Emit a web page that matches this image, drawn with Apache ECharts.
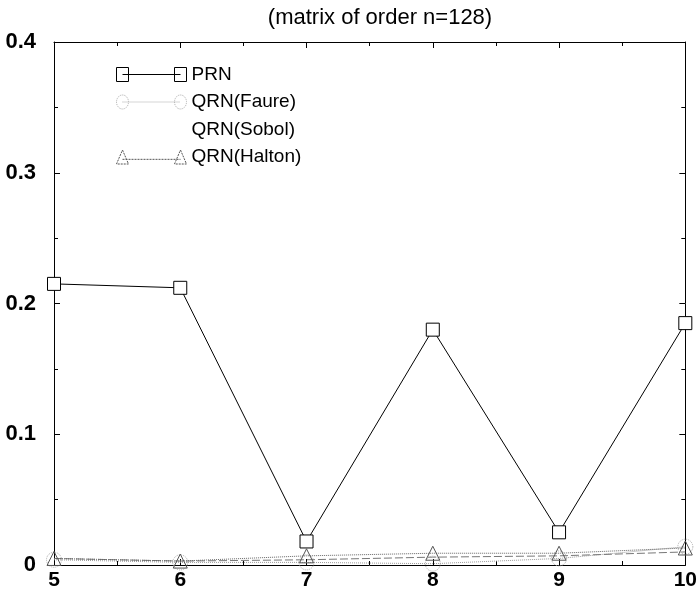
<!DOCTYPE html>
<html>
<head>
<meta charset="utf-8">
<script src="https://cdn.jsdelivr.net/npm/echarts@6/dist/echarts.min.js"></script>
<style>
  html, body { margin: 0; padding: 0; background: #fff; }
  #chart { width: 700px; height: 594px; }
</style>
</head>
<body>
<div id="chart"></div>
<script>
// Dimension (x) and error values for each random number generator
const dims = [5, 6, 7, 8, 9, 10];
const prn = [0.215, 0.212, 0.018, 0.180, 0.025, 0.185];
const faure = [0.004, 0.002, 0.002, 0.001, 0.005, 0.014];
const sobol = [0.005, 0.003, 0.004, 0.006, 0.007, 0.010];
const halton = [0.005, 0.003, 0.007, 0.009, 0.009, 0.013];
const yTicks = [0, 0.1, 0.2, 0.3, 0.4];

const FONT = '"Liberation Sans", Arial, Helvetica, sans-serif';
const pairs = (ys) => dims.map((d, i) => [d, ys[i]]);

// Legend keys: marker - line - marker
const KEY_SQUARE = 'path://M0,1 L12,1 L12,13 L0,13 Z M6,7 L64,7 M58,1 L70,1 L70,13 L58,13 Z';
const KEY_CIRCLE = 'path://M0,7 A6,6 0 1,0 12,7 A6,6 0 1,0 0,7 Z M6,7 L64,7 M58,7 A6,6 0 1,0 70,7 A6,6 0 1,0 58,7 Z';
const KEY_TRIANGLE = 'path://M6,1 L12,13 L0,13 Z M6,9 L64,9 M64,1 L70,13 L58,13 Z';

const chart = echarts.init(document.getElementById('chart'));
const tickBase = {
  show: true, inside: true, length: 6,
  lineStyle: { color: '#000', width: 1 }
};
const minorBase = {
  show: true, splitNumber: 2, length: 4,
  lineStyle: { color: '#000', width: 1 }
};
const frameLine = { show: true, onZero: false, lineStyle: { color: '#000', width: 1 } };

chart.setOption({
  animation: false,
  backgroundColor: '#fff',
  title: {
    text: '(matrix of order n=128)',
    left: 375, top: 2, textAlign: 'center',
    textStyle: { fontFamily: FONT, fontSize: 22, fontWeight: 'normal', color: '#000' }
  },
  grid: { left: 54, right: 12, top: 42, bottom: 29 },
  legend: {
    orient: 'vertical', left: 111, top: 60,
    itemWidth: 70, itemHeight: 14, itemGap: 8.5,
    symbolKeepAspect: false,
    textStyle: { fontFamily: FONT, fontSize: 19, color: '#000', padding: [0, 0, 0, 0] },
    data: [
      { name: 'PRN', icon: KEY_SQUARE,
        itemStyle: { color: 'rgba(0,0,0,0)', borderColor: '#000', borderWidth: 1 } },
      { name: 'QRN(Faure)', icon: KEY_CIRCLE,
        itemStyle: { color: 'rgba(0,0,0,0)', borderColor: '#aaa', borderWidth: 1, borderType: 'dotted' } },
      { name: 'QRN(Sobol)', icon: 'none',
        itemStyle: { opacity: 0 }, lineStyle: { opacity: 0 } },
      { name: 'QRN(Halton)', icon: KEY_TRIANGLE,
        itemStyle: { color: 'rgba(0,0,0,0)', borderColor: '#555', borderWidth: 1, borderType: [2, 1] } }
    ]
  },
  xAxis: [{
    type: 'value', min: 5, max: 10, interval: 1,
    axisLine: frameLine,
    axisTick: tickBase,
    minorTick: minorBase,
    splitLine: { show: false },
    axisLabel: { fontFamily: FONT, fontSize: 21, fontWeight: 'bold', color: '#000', margin: 5 }
  }, {
    type: 'value', min: 5, max: 10, interval: 1, position: 'top',
    axisLine: frameLine,
    axisTick: tickBase,
    minorTick: minorBase,
    splitLine: { show: false },
    axisLabel: { show: false }
  }],
  yAxis: [{
    type: 'value', min: yTicks[0], max: yTicks[yTicks.length - 1], interval: 0.1,
    axisLine: frameLine,
    axisTick: tickBase,
    minorTick: minorBase,
    splitLine: { show: false },
    axisLabel: {
      fontFamily: FONT, fontSize: 22, fontWeight: 'bold', color: '#000', margin: 18,
      formatter: (v) => (v === 0 ? '0' : v.toFixed(1))
    }
  }, {
    type: 'value', min: 0, max: 0.4, interval: 0.1, position: 'right',
    axisLine: frameLine,
    axisTick: tickBase,
    minorTick: minorBase,
    splitLine: { show: false },
    axisLabel: { show: false }
  }],
  series: [{
    name: 'PRN', type: 'line', data: pairs(prn),
    symbol: 'rect', symbolSize: 13,
    itemStyle: { color: '#fff', borderColor: '#000', borderWidth: 1 },
    lineStyle: { color: '#000', width: 1 },
    z: 5
  }, {
    name: 'QRN(Faure)', type: 'line', data: pairs(faure),
    symbol: 'circle', symbolSize: 15,
    itemStyle: { color: 'rgba(255,255,255,0)', borderColor: '#aaa', borderWidth: 1, borderType: 'dotted' },
    lineStyle: { color: '#999', width: 1, type: 'dotted' }
  }, {
    name: 'QRN(Sobol)', type: 'line', data: pairs(sobol),
    symbol: 'none',
    itemStyle: { color: '#777' },
    lineStyle: { color: '#777', width: 1, type: [8, 3] }
  }, {
    name: 'QRN(Halton)', type: 'line', data: pairs(halton),
    symbol: 'triangle', symbolSize: 14,
    itemStyle: { color: 'rgba(255,255,255,0)', borderColor: '#555', borderWidth: 1 },
    lineStyle: { color: '#666', width: 1, type: 'dotted' }
  }]
});
</script>
</body>
</html>
